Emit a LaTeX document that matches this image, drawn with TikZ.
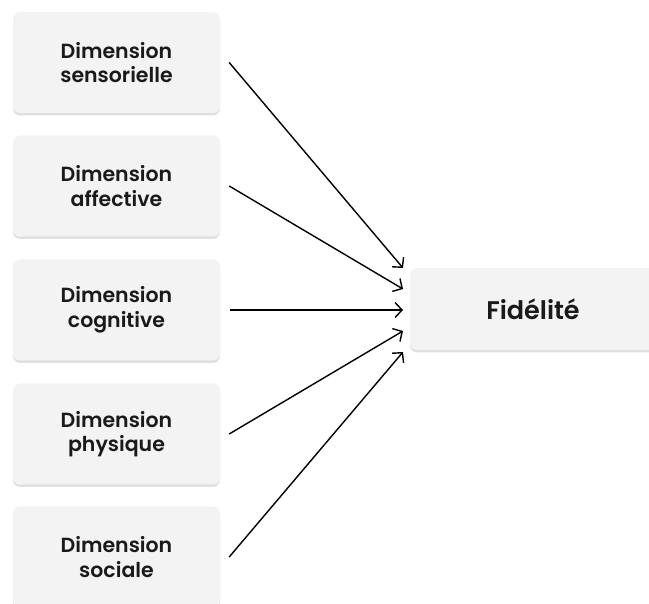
\documentclass[tikz,border=0pt]{standalone}
\usepackage{fontspec}
\setmainfont{Poppins SemiBold}
\usetikzlibrary{arrows.meta,shadows}
\definecolor{boxfill}{HTML}{F3F3F3}
\definecolor{txt}{HTML}{1A1A1A}
\tikzset{
  dimbox/.style={fill=boxfill, rounded corners=7pt, minimum width=207pt, minimum height=101pt,
    align=center, text=txt, font=\fontsize{20.5}{24.5}\selectfont, inner sep=0pt,
    drop shadow={shadow xshift=0pt, shadow yshift=-2.5pt, opacity=0.2, fill=black!60}},
  resbox/.style={dimbox, minimum width=246pt, minimum height=82pt, font=\fontsize{25.5}{28}\selectfont},
  link/.style={-{Straight Barb[length=7pt,width=15pt]}, line width=1.4pt, black}
}
\begin{document}
\begin{tikzpicture}[x=1pt,y=-1pt]
\useasboundingbox[clip] (0,0) rectangle (649,604);
\fill[white] (0,0) rectangle (649,604);
\node[dimbox] (d1) at (116.5,62.5) {Dimension\\sensorielle};
\node[dimbox] (d2) at (116.5,186) {Dimension\\affective};
\node[dimbox] (d3) at (116.5,310) {Dimension\\cognitive};
\node[dimbox] (d4) at (116.5,434) {Dimension\\physique};
\node[dimbox] (d5) at (116.5,557) {Dimension\\sociale};
\node[resbox] (f) at (533,309) {Fidélité};
\coordinate (e1) at (403,268);
\coordinate (e2) at (403,289);
\coordinate (e3) at (403,310);
\coordinate (e4) at (403,331);
\coordinate (e5) at (403,352);
\draw[link] ([xshift=9pt]d1.east) -- (e1);
\draw[link] ([xshift=9pt]d2.east) -- (e2);
\draw[link] ([xshift=10pt]d3.east) -- (e3);
\draw[link] ([xshift=9pt]d4.east) -- (e4);
\draw[link] ([xshift=9pt]d5.east) -- (e5);
\end{tikzpicture}
\end{document}
